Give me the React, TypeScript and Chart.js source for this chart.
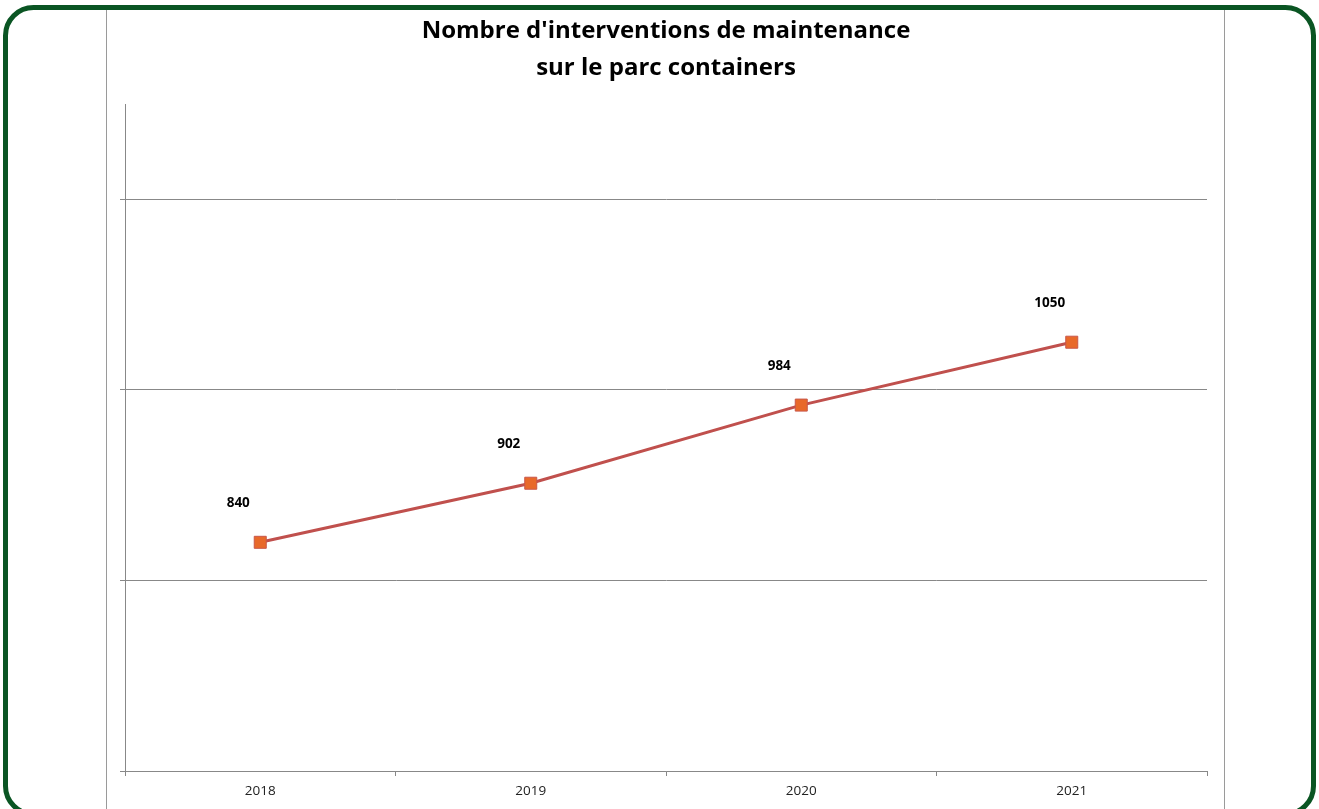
import React, { useEffect, useRef } from "react";
import { Chart, registerables } from "chart.js";

Chart.register(...registerables);

const TITLE_LINES = ["Nombre d'interventions de maintenance", "sur le parc containers"];
const YEARS = ["2018", "2019", "2020", "2021"];
const INTERVENTIONS = [840, 902, 984, 1050];
const Y_MIN = 600;
const Y_MAX = 1300;
const Y_STEP = 200;

const FONT = "'Open Sans', Lato, sans-serif";

const decorPlugin = {
  id: "decor",
  beforeDraw(chart: any) {
    const ctx = chart.ctx;
    ctx.save();
    ctx.fillStyle = "#ffffff";
    ctx.fillRect(0, 0, chart.width, chart.height);
    ctx.strokeStyle = "#9a9a9a";
    ctx.lineWidth = 1;
    ctx.beginPath();
    ctx.moveTo(106.5, 9);
    ctx.lineTo(106.5, chart.height);
    ctx.moveTo(1224.5, 9);
    ctx.lineTo(1224.5, chart.height);
    ctx.stroke();
    ctx.restore();
  },
  afterDraw(chart: any) {
    const ctx = chart.ctx;
    ctx.save();
    ctx.strokeStyle = "#0a5523";
    ctx.lineWidth = 5;
    const x = 5.5, y = 7.5, w = 1313.5 - 5.5, h = 814 - 7.5, r = 28;
    ctx.beginPath();
    ctx.moveTo(x + r, y);
    ctx.lineTo(x + w - r, y);
    ctx.arcTo(x + w, y, x + w, y + r, r);
    ctx.lineTo(x + w, y + h - r);
    ctx.arcTo(x + w, y + h, x + w - r, y + h, r);
    ctx.lineTo(x + r, y + h);
    ctx.arcTo(x, y + h, x, y + h - r, r);
    ctx.lineTo(x, y + r);
    ctx.arcTo(x, y, x + r, y, r);
    ctx.closePath();
    ctx.stroke();
    ctx.fillStyle = "#000000";
    ctx.font = "bold 24px " + FONT;
    ctx.textAlign = "center";
    ctx.textBaseline = "middle";
    ctx.fillText(TITLE_LINES[0], 666, 31);
    ctx.fillText(TITLE_LINES[1], 666, 68);
    const meta = chart.getDatasetMeta(0);
    ctx.font = "bold 13.5px " + FONT;
    meta.data.forEach((pt: any, i: number) => {
      ctx.fillText(String(INTERVENTIONS[i]), pt.x - 22, pt.y - 39);
    });
    ctx.restore();
  },
};

export default function App() {
  const ref = useRef<HTMLCanvasElement | null>(null);
  useEffect(() => {
    if (!ref.current) return;
    const chart = new Chart(ref.current, {
      type: "line",
      data: {
        labels: YEARS,
        datasets: [
          {
            data: INTERVENTIONS,
            borderColor: "#c0504d",
            borderWidth: 3,
            pointStyle: "rect",
            pointRadius: 8.5,
            pointBackgroundColor: "#e8692a",
            pointBorderColor: "#c9574a",
            pointBorderWidth: 1,
            tension: 0,
          },
        ],
      },
      options: {
        animation: false,
        responsive: false,
        maintainAspectRatio: false,
        layout: { padding: { left: 120, right: 112, top: 104, bottom: 0 } },
        plugins: {
          legend: { display: false },
          title: { display: false },
          tooltip: { enabled: false },
        },
        scales: {
          x: {
            offset: true,
            grid: {
              offset: true,
              drawOnChartArea: false,
              drawTicks: true,
              tickLength: 5,
              color: "#888888",
            },
            border: { color: "#888888", width: 1 },
            ticks: {
              color: "#222222",
              font: { family: FONT, size: 13.5 },
              padding: 7,
            },
            afterFit(scale: any) {
              scale.height = 38;
            },
          },
          y: {
            min: Y_MIN,
            max: Y_MAX,
            grid: {
              color: "#888888",
              tickLength: 5,
              drawTicks: true,
            },
            border: { color: "#888888", width: 1 },
            ticks: {
              stepSize: Y_STEP,
              includeBounds: false,
              display: false,
            } as any,
            afterFit(scale: any) {
              scale.width = 5;
            },
          },
        },
      },
      plugins: [decorPlugin],
    });
    return () => chart.destroy();
  }, []);
  return (
    <div style={{ position: "absolute", left: 0, top: 0, width: 1319, height: 809 }}>
      <canvas ref={ref} width={1319} height={809} style={{ display: "block" }} />
    </div>
  );
}
